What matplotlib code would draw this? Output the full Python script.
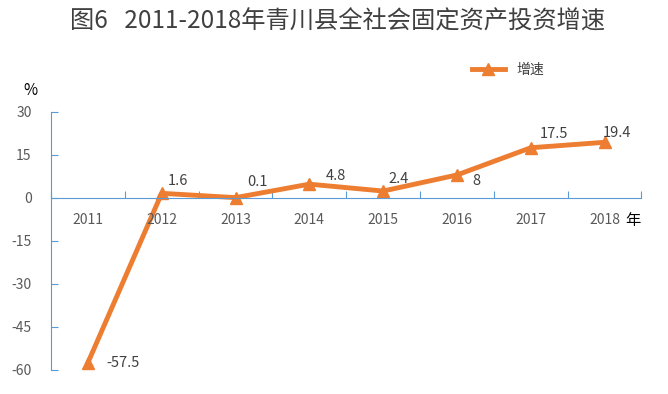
import numpy as np
import matplotlib
matplotlib.use("Agg")
import matplotlib.pyplot as plt

plt.rcParams['font.family'] = ['Noto Sans CJK SC', 'DejaVu Sans']

years = ['2011', '2012', '2013', '2014', '2015', '2016', '2017', '2018']
growth = [-57.5, 1.6, 0.1, 4.8, 2.4, 8, 17.5, 19.4]
value_labels = ['-57.5', '1.6', '0.1', '4.8', '2.4', '8', '17.5', '19.4']
yticks = [30, 15, 0, -15, -30, -45, -60]

orange = '#ED7D31'
axis_blue = '#5B9BD5'
text_gray = '#595959'

fig = plt.figure(figsize=(6.68, 3.94), dpi=100)
ax = fig.add_axes([0.0763, 0.061, 0.884, 0.655])

x = np.arange(len(years))
line, = ax.plot(x, growth, color=orange, lw=3.5, marker='^', markersize=8,
                markerfacecolor=orange, markeredgecolor=orange, label='增速')

# label offsets in points (dx, dy)
offsets = [(25, 0), (12, 9), (16, 11), (19, 6), (11, 9), (14, -4), (17, 10), (9, 7)]
for xi, yi, lab, (dx, dy) in zip(x, growth, value_labels, offsets):
    ax.annotate(lab, (xi, yi), xytext=(dx, dy), textcoords='offset points',
                ha='center', va='center', fontsize=10.5, color='#404040')

ax.set_xlim(-0.5, len(years) - 0.5)
ax.set_ylim(-60, 30)
ax.set_yticks(yticks)
ax.set_yticklabels([str(t) for t in yticks], color=text_gray, fontsize=10)
ax.tick_params(axis='y', direction='in', length=5, color=axis_blue, pad=14)

ax.spines['bottom'].set_position(('data', 0))
for s in ['top', 'right']:
    ax.spines[s].set_visible(False)
ax.spines['bottom'].set_color(axis_blue)
ax.spines['left'].set_color(axis_blue)

ax.set_xticks(np.arange(-0.5, len(years), 1))
ax.set_xticklabels([])
ax.tick_params(axis='x', direction='in', length=5, color=axis_blue)
for xi, yr in zip(x, years):
    ax.text(xi, -5.4, yr, ha='center', va='top', fontsize=10, color=text_gray)
ax.text(len(years) - 0.5 - 0.12, -5.0, '年', ha='center', va='top', fontsize=11, color='black')

fig.text(0.035, 0.77, '%', fontsize=11, color='black', ha='left', va='center')

fig.text(0.505, 0.945, '图6   2011-2018年青川县全社会固定资产投资增速', ha='center', va='center',
         fontsize=17.5, color='#404040')

fig.legend(handles=[line], loc='center', bbox_to_anchor=(0.76, 0.822), frameon=False,
           fontsize=10, handlelength=2.4, labelcolor='#404040')

fig.savefig('out.png', dpi=100)
